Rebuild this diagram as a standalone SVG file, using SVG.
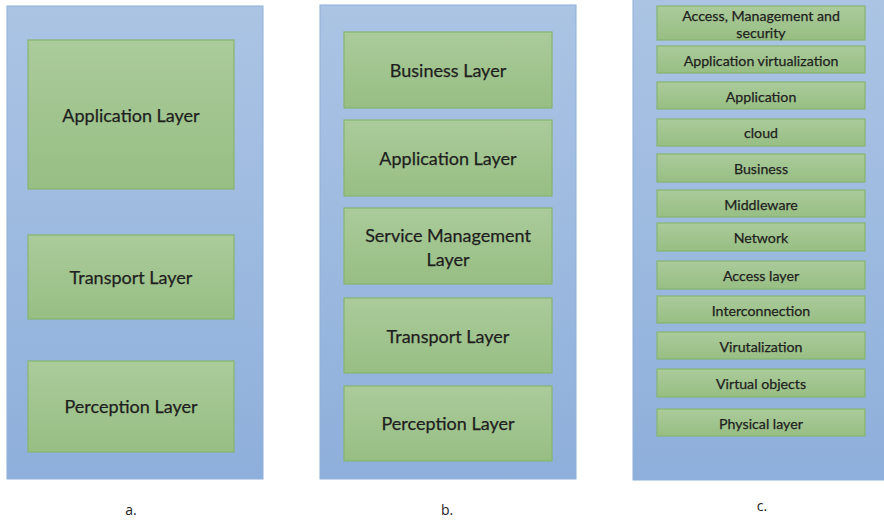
<svg xmlns="http://www.w3.org/2000/svg" width="884" height="521" viewBox="0 0 884 521">
<defs>
<linearGradient id="gBlue" x1="0" y1="0" x2="0" y2="1">
<stop offset="0" stop-color="#abc4e4"/>
<stop offset="1" stop-color="#8eafdb"/>
</linearGradient>
<linearGradient id="gGreen" x1="0" y1="0" x2="0" y2="1">
<stop offset="0" stop-color="#abcb9b"/>
<stop offset="1" stop-color="#97be83"/>
</linearGradient>
<style>
.panel{fill:url(#gBlue);stroke:#8fb0d8;stroke-width:1}
.box{fill:url(#gGreen);stroke:#86b56f;stroke-width:1.2}
.t{font-family:Lato,"Open Sans","Liberation Sans",sans-serif;fill:#1e1e1e;text-anchor:middle;dominant-baseline:central;stroke:#1e1e1e;stroke-width:0.25}
.big{font-size:18px}
.sm{font-size:14.2px}
.cap{font-family:"Open Sans","Liberation Sans",sans-serif;font-size:14px;fill:#222;text-anchor:middle}
</style>
</defs>
<rect width="884" height="521" fill="#ffffff"/>

<g id="panel-a">
<rect class="panel" x="7" y="6" width="256" height="473"/>
<g id="a-application"><rect class="box" x="28" y="40" width="206" height="149"/><text class="t big" x="131" y="115">Application Layer</text></g>
<g id="a-transport"><rect class="box" x="28" y="235" width="206" height="84"/><text class="t big" x="131" y="277">Transport Layer</text></g>
<g id="a-perception"><rect class="box" x="28" y="361" width="206" height="91"/><text class="t big" x="131" y="406">Perception Layer</text></g>
<text class="cap" x="131" y="515">a.</text>
</g>

<g id="panel-b">
<rect class="panel" x="320" y="5" width="256" height="474"/>
<g id="b-business"><rect class="box" x="344" y="32" width="208" height="76"/><text class="t big" x="448" y="70">Business Layer</text></g>
<g id="b-application"><rect class="box" x="344" y="120" width="208" height="76"/><text class="t big" x="448" y="158">Application Layer</text></g>
<g id="b-service"><rect class="box" x="344" y="208" width="208" height="76"/><text class="t big" x="448" y="235">Service Management</text><text class="t big" x="448" y="259">Layer</text></g>
<g id="b-transport"><rect class="box" x="344" y="298" width="208" height="75"/><text class="t big" x="448" y="336">Transport Layer</text></g>
<g id="b-perception"><rect class="box" x="344" y="386" width="208" height="75"/><text class="t big" x="448" y="423">Perception Layer</text></g>
<text class="cap" x="447" y="515">b.</text>
</g>

<g id="panel-c">
<rect class="panel" x="633" y="-1" width="252" height="481"/>
<g id="c-access-mgmt"><rect class="box" x="657" y="6" width="208" height="34"/><text class="t sm" x="761" y="15">Access, Management and</text><text class="t sm" x="761" y="32">security</text></g>
<g id="c-app-virt"><rect class="box" x="657" y="46" width="208" height="27"/><text class="t sm" x="761" y="60">Application virtualization</text></g>
<g id="c-application"><rect class="box" x="657" y="82" width="208" height="27"/><text class="t sm" x="761" y="96">Application</text></g>
<g id="c-cloud"><rect class="box" x="657" y="119" width="208" height="27"/><text class="t sm" x="761" y="132">cloud</text></g>
<g id="c-business"><rect class="box" x="657" y="154" width="208" height="28"/><text class="t sm" x="761" y="168">Business</text></g>
<g id="c-middleware"><rect class="box" x="657" y="190" width="208" height="27"/><text class="t sm" x="761" y="204">Middleware</text></g>
<g id="c-network"><rect class="box" x="657" y="223" width="208" height="28"/><text class="t sm" x="761" y="237">Network</text></g>
<g id="c-access-layer"><rect class="box" x="657" y="261" width="208" height="28"/><text class="t sm" x="761" y="275">Access layer</text></g>
<g id="c-interconnection"><rect class="box" x="657" y="296" width="208" height="27"/><text class="t sm" x="761" y="310">Interconnection</text></g>
<g id="c-virutalization"><rect class="box" x="657" y="332" width="208" height="27"/><text class="t sm" x="761" y="346">Virutalization</text></g>
<g id="c-virtual-objects"><rect class="box" x="657" y="369" width="208" height="28"/><text class="t sm" x="761" y="383">Virtual objects</text></g>
<g id="c-physical"><rect class="box" x="657" y="409" width="208" height="27"/><text class="t sm" x="761" y="423">Physical layer</text></g>
<text class="cap" x="762" y="511">c.</text>
</g>

<g id="connectors"></g>
</svg>
